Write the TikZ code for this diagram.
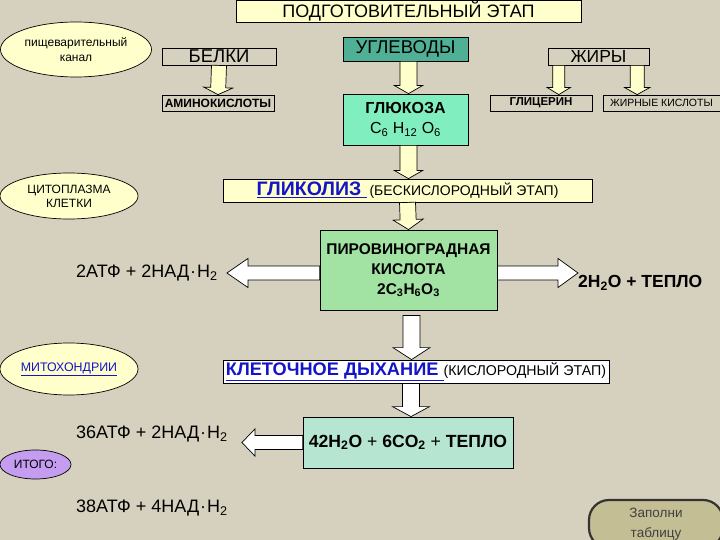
\documentclass[tikz,border=0pt]{standalone}
\usepackage{fontspec}
\setmainfont{Liberation Sans}
\usetikzlibrary{calc,shapes.geometric}
\definecolor{bg}{RGB}{214,208,190}
\definecolor{ltyel}{RGB}{255,255,204}
\definecolor{teal1}{RGB}{80,176,150}
\definecolor{mint}{RGB}{128,238,190}
\definecolor{pvkgreen}{RGB}{162,226,162}
\definecolor{co2teal}{RGB}{182,230,210}
\definecolor{purp}{RGB}{196,156,240}
\definecolor{btn}{RGB}{196,190,148}
\definecolor{lnkblue}{RGB}{20,20,200}
\newcommand\fs[2]{\fontsize{#1}{#2}\selectfont}
\newcommand\nadot{\kern1pt·\kern1pt}
\newcommand\blockarrow[6]{%
  \coordinate (ba-s) at #5;
  \coordinate (ba-e) at #6;
  \coordinate (ba-c) at ($(ba-e)!#4!(ba-s)$);
  \draw[fill=#1, line width=0.7pt, line join=miter]
    ($(ba-s)!#2!90:(ba-e)$) -- ($(ba-c)!#2!-90:(ba-s)$) -- ($(ba-c)!#3!-90:(ba-s)$) -- (ba-e)
    -- ($(ba-c)!#3!90:(ba-s)$) -- ($(ba-c)!#2!90:(ba-s)$) -- ($(ba-s)!#2!-90:(ba-e)$) -- cycle;
}
\tikzset{
  box/.style={draw=black, line width=0.8pt, inner sep=0pt, align=center},
  oval/.style={draw=black, line width=0.7pt, ellipse, inner sep=0pt, align=center},
  plain/.style={inner sep=0pt, anchor=west}
}
\begin{document}
\begin{tikzpicture}[x=1pt,y=-1pt]
\fill[bg] (0,0) rectangle (720,540);
\useasboundingbox (0,0) rectangle (720,540);

% top stage
\node[box, fill=ltyel, minimum width=345, minimum height=22, font=\fs{18}{20}] (title) at (408.5,11.3) {ПОДГОТОВИТЕЛЬНЫЙ ЭТАП};
\node[oval, fill=ltyel, minimum width=151, minimum height=55, font=\fs{12}{15}] (pisch) at (76,49.5) {пищеварительный\\канал};

\node[box, minimum width=114, minimum height=17, font=\fs{18.5}{20}] (belki) at (219,56.5) {БЕЛКИ};
\node[box, minimum width=112, minimum height=16, font=\bfseries\fs{12}{14}] (amino) at (218,103) {АМИНОКИСЛОТЫ};

\node[box, fill=teal1, minimum width=125, minimum height=24, font=\fs{18.5}{20}] (uglev) at (405.5,49) {УГЛЕВОДЫ};
\node[box, fill=mint, minimum width=125, minimum height=51, font=\fs{16}{20}] (gluk) at (405.5,119.5) {\textbf{ГЛЮКОЗА}\\C\textsubscript{6} H\textsubscript{12} O\textsubscript{6}};

\node[box, minimum width=101, minimum height=17, font=\fs{17.5}{19}] (zhiry) at (598.5,56.5) {ЖИРЫ};
\node[box, minimum width=102, minimum height=16, font=\bfseries\fs{11.5}{13}] (glic) at (541,103) {ГЛИЦЕРИН};
\node[box, minimum width=117, minimum height=16, font=\fs{10.5}{12}] (zhk) at (661.5,103) {ЖИРНЫЕ КИСЛОТЫ};

% glycolysis
\node[oval, fill=ltyel, minimum width=138, minimum height=46, font=\fs{12}{14}] (cyto) at (69,196) {ЦИТОПЛАЗМА\\КЛЕТКИ};
\node[box, fill=ltyel, minimum width=369, minimum height=23] (glik) at (407.5,190.5)
  {\textcolor{lnkblue}{\bfseries\fs{19.5}{21}\underline{ГЛИКОЛИЗ\ }}\ {\fs{14}{16}(БЕСКИСЛОРОДНЫЙ ЭТАП)}};
\node[box, fill=pvkgreen, minimum width=177, minimum height=80, font=\bfseries\fs{15.5}{20}] (pvk) at (408.5,270)
  {ПИРОВИНОГРАДНАЯ\\КИСЛОТА\\2C\textsubscript{3}H\textsubscript{6}O\textsubscript{3}};
\node[plain, font=\fs{18}{21}] (atp1) at (76,273) {2АТФ + 2НАД\nadot Н\textsubscript{2}};
\node[plain, font=\bfseries\fs{17.5}{20}] (heat1) at (578,283) {2H\textsubscript{2}O + ТЕПЛО};

% cellular respiration
\node[oval, fill=ltyel, minimum width=138, minimum height=52, font=\fs{12.4}{14}] (mito) at (69,369) {\textcolor{lnkblue}{\underline{МИТОХОНДРИИ}}};
\node[box, fill=white, minimum width=386, minimum height=23] (klet) at (416,371.5)
  {\textcolor{lnkblue}{\bfseries\fs{18.2}{20}\underline{КЛЕТОЧНОЕ ДЫХАНИЕ\ }}{\fs{14.2}{16}(КИСЛОРОДНЫЙ ЭТАП)}};
\node[box, fill=co2teal, minimum width=210, minimum height=51, font=\fs{17.6}{20}] (co2) at (408,442.5)
  {\textbf{42H\textsubscript{2}O} + \textbf{6CO\textsubscript{2}} + \textbf{ТЕПЛО}};
\node[plain, font=\fs{18}{21}] (atp2) at (76,434) {36АТФ + 2НАД\nadot Н\textsubscript{2}};
\node[oval, fill=purp, minimum width=71, minimum height=29, font=\fs{12}{14}] (itogo) at (35.5,464.5) {ИТОГО:};
\node[plain, font=\fs{18}{21}] (atp3) at (76,508) {38АТФ + 4НАД\nadot Н\textsubscript{2}};

\node[draw=black!80, line width=2.2pt, rounded corners=20pt, fill=btn, minimum width=134, minimum height=48,
      inner sep=0pt, align=center, text=black!75, font=\fs{13.5}{20.5}] (btn) at (656,524) {Заполни\\таблицу};

% arrows
\blockarrow{ltyel}{7.5pt}{14.5pt}{7pt}{(belki.south)}{(amino.north)}
\coordinate (ua) at ($(uglev.south)+(3,0)$);
\blockarrow{ltyel}{8.5pt}{14pt}{8pt}{(ua)}{(ua |- gluk.north)}
\coordinate (ga) at ($(gluk.south)+(3,0)$);
\blockarrow{ltyel}{8.5pt}{14pt}{8pt}{(ga)}{(ga |- glik.north)}
\coordinate (za) at ($(zhiry.south west)!0.11!(zhiry.south east)$);
\blockarrow{ltyel}{6pt}{11.5pt}{7pt}{(za)}{(za |- glic.north)}
\coordinate (zb) at ($(zhiry.south west)!0.88!(zhiry.south east)$);
\blockarrow{ltyel}{7pt}{12.5pt}{7pt}{(zb)}{(zb |- zhk.north)}
\blockarrow{ltyel}{8pt}{15pt}{10pt}{(glik.south)}{(pvk.north)}

\coordinate (pl) at ($(pvk.west)+(0,3)$);
\coordinate (al) at ($(atp1.east)+(9,1)$);
\blockarrow{white}{7pt}{14.5pt}{21pt}{(pl)}{(al |- pl)}
\coordinate (pr) at ($(pvk.east)+(0,3)$);
\blockarrow{white}{7pt}{14.5pt}{20pt}{(pr)}{(heat1.west |- pr)}

\coordinate (pd) at ($(pvk.south)+(3,5)$);
\blockarrow{white}{8.5pt}{18.5pt}{12pt}{(pd)}{(pd |- klet.north)}
\coordinate (kd) at ($(klet.south)+(-5,0)$);
\blockarrow{white}{8.5pt}{18.5pt}{10pt}{(kd)}{(kd |- co2.north)}
\coordinate (cl) at ($(co2.west)+(0,0)$);
\coordinate (a2) at ($(atp2.east)+(14,0)$);
\blockarrow{white}{7pt}{13.5pt}{13pt}{(cl)}{(a2 |- cl)}
\end{tikzpicture}
\end{document}
